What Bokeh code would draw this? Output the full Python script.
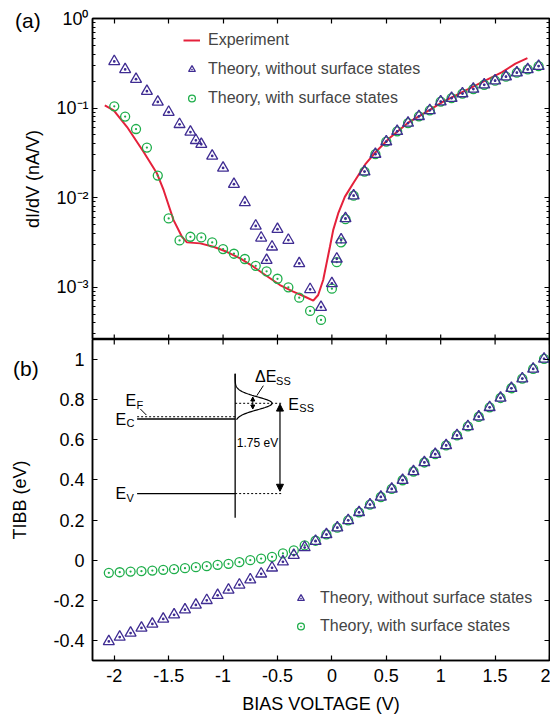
import numpy as np
from bokeh.plotting import figure
from bokeh.layouts import column
from bokeh.models import (LinearAxis, LogAxis, Range1d, CustomJSTickFormatter, FixedTicker,
                          Legend, LegendItem, Arrow, NormalHead, Div)
from bokeh.core.properties import value
from bokeh.embed import file_html
from bokeh.resources import INLINE

FONT = "Liberation Sans"
RED = "#e5213b"
GREEN = "#1fae4b"
PURPLE = "#3f2c92"

# ---------------- (a) dI/dV data ----------------
exp_v = [-2.087, -2.005, -1.882, -1.730, -1.607, -1.546, -1.455, -1.378, -1.332, -1.210,
         -1.088, -0.966, -0.843, -0.721, -0.599, -0.477, -0.355, -0.247, -0.171, -0.126,
         -0.080, -0.049, -0.018, 0.012, 0.058, 0.119, 0.195, 0.312, 0.403, 0.525,
         0.709, 0.892, 1.015, 1.198, 1.381, 1.565, 1.687, 1.797]
exp_didv = [0.1072, 0.0943, 0.0614, 0.0323, 0.01856, 0.01209, 0.0056, 0.00365, 0.00316, 0.00308,
            0.00282, 0.00248, 0.00209, 0.00169, 0.00133, 0.001055, 0.000889, 0.000781, 0.000705, 0.000816,
            0.0012, 0.00184, 0.00282, 0.00433, 0.00665, 0.01018, 0.01436, 0.024, 0.0323, 0.0456,
            0.0698, 0.0943, 0.1167, 0.1509, 0.195, 0.252, 0.3126, 0.3608]

nss_v = [-2.0, -1.9, -1.8, -1.7, -1.6, -1.5, -1.4, -1.3, -1.25, -1.2,
         -1.1, -1.0, -0.9, -0.8, -0.7, -0.65, -0.6, -0.55, -0.5, -0.4,
         -0.3, -0.2, -0.1, 0.0, 0.045, 0.085, 0.125,
         0.2, 0.3, 0.4, 0.5, 0.6, 0.7, 0.8, 0.9, 1.0, 1.1, 1.2, 1.3, 1.4, 1.5, 1.6, 1.7, 1.8, 1.9]
nss_didv = [0.332, 0.27, 0.21, 0.154, 0.117, 0.090, 0.0658, 0.054, 0.0436, 0.0394,
            0.0292, 0.0214, 0.0141, 0.0088, 0.00483, 0.00355, 0.0020, 0.00282, 0.00444, 0.00335,
            0.00184, 0.000944, 0.000596, 0.0011, 0.00207, 0.00338, 0.00585,
            0.0105, 0.0195, 0.0305, 0.0422, 0.055, 0.068, 0.0808, 0.0942, 0.118, 0.129, 0.145,
            0.163, 0.182, 0.202, 0.224, 0.248, 0.27, 0.294]

ss_v = [-2.0, -1.9, -1.8, -1.7, -1.6, -1.5, -1.4, -1.3, -1.2, -1.1,
        -1.0, -0.9, -0.8, -0.7, -0.6, -0.5, -0.4, -0.3, -0.2, -0.1,
        0.0, 0.045, 0.085, 0.125,
        0.2, 0.3, 0.4, 0.5, 0.6, 0.7, 0.8, 0.9, 1.0, 1.1, 1.2, 1.3, 1.4, 1.5, 1.6, 1.7, 1.8, 1.9]
ss_didv = [0.1045, 0.0802, 0.0583, 0.0362, 0.0176, 0.00585, 0.00332, 0.00365, 0.00359, 0.00316,
           0.00266, 0.00236, 0.00206, 0.00173, 0.0015, 0.00124, 0.000995, 0.000762, 0.000542, 0.00043,
           0.00096, 0.0019, 0.00316, 0.00574,
           0.0105, 0.0195, 0.0305, 0.0422, 0.055, 0.068, 0.0808, 0.0942, 0.118, 0.129, 0.145,
           0.163, 0.182, 0.202, 0.224, 0.248, 0.27, 0.294]

# ---------------- (b) TIBB data ----------------
tibb_v = [-2.05, -1.95, -1.85, -1.75, -1.65, -1.55, -1.45, -1.35, -1.25, -1.15,
          -1.05, -0.95, -0.85, -0.75, -0.65, -0.55, -0.45, -0.35, -0.25, -0.15,
          -0.05, 0.05, 0.15, 0.25, 0.35, 0.45, 0.55, 0.65, 0.75, 0.85,
          0.95, 1.05, 1.15, 1.25, 1.35, 1.45, 1.55, 1.65, 1.75, 1.85, 1.95]
tibb_nss = [-0.405, -0.383, -0.363, -0.338, -0.318, -0.293, -0.272, -0.247, -0.223, -0.200,
            -0.175, -0.148, -0.123, -0.097, -0.068, -0.038, -0.008, 0.025, 0.063, 0.095,
            0.128, 0.162, 0.1985, 0.2385, 0.277, 0.315, 0.355, 0.3985, 0.442, 0.487,
            0.5285, 0.572, 0.622, 0.667, 0.715, 0.762, 0.8085, 0.857, 0.905, 0.9535, 1.0035]
tibb_ss = [-0.063, -0.060, -0.057, -0.055, -0.052, -0.048, -0.045, -0.040, -0.035, -0.030,
           -0.023, -0.018, -0.010, 0.000, 0.008, 0.017, 0.0335, 0.0485, 0.0735, 0.097,
           0.1285, 0.162, 0.1985, 0.2385, 0.277, 0.315, 0.355, 0.3985, 0.442, 0.487,
           0.5285, 0.572, 0.622, 0.667, 0.715, 0.762, 0.8085, 0.857, 0.905, 0.9535, 1.0035]

x_ticks = [-2, -1.5, -1, -0.5, 0, 0.5, 1, 1.5, 2]
tibb_ticks = [-0.4, -0.2, 0, 0.2, 0.4, 0.6, 0.8, 1]
log_ticks = [1e-3, 1e-2, 1e-1, 1.0]
log_minor = [m * 10.0 ** e for e in range(-4, 0) for m in range(2, 10)]

num_fmt = CustomJSTickFormatter(code="return String(Number(tick.toFixed(2)));")
exp_fmt = CustomJSTickFormatter(code="""
const e = Math.round(Math.log10(tick));
const m = {"-": "\u207b", "0": "\u2070", "1": "\u00b9", "2": "\u00b2", "3": "\u00b3", "4": "\u2074"};
return "10" + String(e).split("").map(c => m[c]).join("");
""")
blank_fmt = CustomJSTickFormatter(code="return '';")

x_range = Range1d(-2.2, 2.0)


def style_axis(ax, labels=True, minor=False):
    ax.major_tick_in = 5
    ax.major_tick_out = 0
    ax.minor_tick_in = 3 if minor else 0
    ax.minor_tick_out = 0
    if not minor:
        ax.minor_tick_line_color = None
    ax.axis_line_width = 1.5
    ax.major_tick_line_width = 1.2
    ax.minor_tick_line_width = 1.0
    ax.major_label_text_font = FONT
    ax.axis_label_text_font = FONT
    ax.axis_label_text_font_style = "normal"
    ax.axis_label_text_font_size = "18px"
    ax.axis_label_text_color = "black"
    ax.major_label_text_color = "black"
    if labels:
        ax.major_label_text_font_size = "18px"
    else:
        ax.formatter = blank_fmt
        ax.major_label_text_font_size = "1px"
        ax.major_label_text_color = None
        ax.major_label_standoff = 0


def edge_ticks(p, y_edge):
    # inward ticks on the edge that the two panels share (half of each dash is clipped by the frame)
    p.scatter(x_ticks, [y_edge] * len(x_ticks), marker="dash", angle=np.pi / 2, size=10,
              line_color="black", line_width=1.2)


# ---------------- top panel ----------------
p1 = figure(frame_width=457, frame_height=321, x_range=x_range, y_range=Range1d(2.6e-4, 1.0),
            y_axis_type="log", x_axis_location=None, output_backend="svg", toolbar_location=None,
            min_border_left=92, min_border_right=1, min_border_top=18, min_border_bottom=0)
p1.grid.visible = False
p1.outline_line_color = "black"
p1.outline_line_width = 1.5

top_ax = LinearAxis(ticker=FixedTicker(ticks=x_ticks))
style_axis(top_ax, labels=False)
p1.add_layout(top_ax, "above")

p1.yaxis.ticker = FixedTicker(ticks=log_ticks, minor_ticks=log_minor)
p1.yaxis.formatter = exp_fmt
style_axis(p1.yaxis[0], labels=True, minor=True)
p1.yaxis.major_label_standoff = 4
p1.yaxis.axis_label = "dI/dV (nA/V)"
p1.yaxis.axis_label_standoff = 10
right_ax = LogAxis(ticker=FixedTicker(ticks=log_ticks, minor_ticks=log_minor))
style_axis(right_ax, labels=False, minor=True)
p1.add_layout(right_ax, "right")

edge_ticks(p1, p1.y_range.start)
r_exp = p1.line(exp_v, exp_didv, line_color=RED, line_width=2)
r_ss = p1.scatter(ss_v, ss_didv, marker="circle_dot", size=9, line_color=GREEN,
                  fill_color=None, line_width=1.3)
r_nss = p1.scatter(nss_v, nss_didv, marker="triangle_dot", size=11, line_color=PURPLE,
                   fill_color=None, line_width=1.3)

leg1 = Legend(items=[LegendItem(label="Experiment", renderers=[r_exp]),
                     LegendItem(label="Theory, without surface states", renderers=[r_nss]),
                     LegendItem(label="Theory, with surface states", renderers=[r_ss])],
              location=(91, 231), glyph_width=17, glyph_height=20, label_height=20,
              spacing=9, padding=0, margin=0, label_standoff=8,
              border_line_color=None, background_fill_alpha=0,
              label_text_font=FONT, label_text_font_size="16px")
p1.add_layout(leg1)

# ---------------- bottom panel ----------------
p2 = figure(frame_width=457, frame_height=321, x_range=x_range, y_range=Range1d(-0.5, 1.1),
            output_backend="svg", toolbar_location=None,
            min_border_left=92, min_border_right=1, min_border_top=0, min_border_bottom=0)
p2.grid.visible = False
p2.outline_line_color = "black"
p2.outline_line_width = 1.5

p2.xaxis.ticker = FixedTicker(ticks=x_ticks)
p2.xaxis.formatter = num_fmt
style_axis(p2.xaxis[0], labels=True)
p2.xaxis.major_label_standoff = 8
p2.xaxis.axis_label = "BIAS VOLTAGE (V)"
p2.xaxis.axis_label_standoff = 9

p2.yaxis.ticker = FixedTicker(ticks=tibb_ticks)
p2.yaxis.formatter = num_fmt
style_axis(p2.yaxis[0], labels=True)
p2.yaxis.major_label_standoff = 8
p2.yaxis.axis_label = "TIBB (eV)"
p2.yaxis.axis_label_standoff = 20
right_ax2 = LinearAxis(ticker=FixedTicker(ticks=tibb_ticks))
style_axis(right_ax2, labels=False)
p2.add_layout(right_ax2, "right")

edge_ticks(p2, p2.y_range.end)
b_ss = p2.scatter(tibb_v, tibb_ss, marker="circle_dot", size=9, line_color=GREEN,
                  fill_color=None, line_width=1.3)
b_nss = p2.scatter(tibb_v, tibb_nss, marker="triangle_dot", size=11, line_color=PURPLE,
                   fill_color=None, line_width=1.3)

leg2 = Legend(items=[LegendItem(label="Theory, without surface states", renderers=[b_nss]),
                     LegendItem(label="Theory, with surface states", renderers=[b_ss])],
              location=(200, 24), glyph_width=17, glyph_height=20, label_height=20,
              spacing=8, padding=0, margin=0, label_standoff=11,
              border_line_color=None, background_fill_alpha=0,
              label_text_font=FONT, label_text_font_size="16px")
p2.add_layout(leg2)

# ---- band diagram inset ----
surf_x = -0.889
ec, ef, ev, ess = 0.7035, 0.715, 0.332, 0.782
left_x, right_x = -1.79, -0.45
p2.line([surf_x, surf_x], [0.212, 0.9285], line_color="black", line_width=1.3)
p2.line([left_x, surf_x], [ec, ec], line_color="black", line_width=1.5)
p2.line([left_x, surf_x], [ev, ev], line_color="black", line_width=1.3)
p2.line([left_x, surf_x], [ef, ef], line_color="black", line_width=1, line_dash="2 2")
p2.line([surf_x, right_x], [ev, ev], line_color="black", line_width=1, line_dash="2 2")
p2.line([surf_x, right_x], [ess, ess], line_color="black", line_width=1, line_dash="2 2")
tt = np.linspace(0.70, 0.93, 80)
p2.line(surf_x + 0.34 * np.exp(-0.5 * ((tt - ess) / 0.032) ** 2), tt, line_color="black", line_width=1.2)
p2.add_layout(Arrow(start=NormalHead(size=7, fill_color="black", line_color="black"),
                    end=NormalHead(size=7, fill_color="black", line_color="black"),
                    x_start=-0.477, y_start=0.778, x_end=-0.477, y_end=0.3435,
                    line_color="black", line_width=1.2))
p2.add_layout(Arrow(start=NormalHead(size=4, fill_color="black", line_color="black"),
                    end=NormalHead(size=4, fill_color="black", line_color="black"),
                    x_start=-0.727, y_start=0.8135, x_end=-0.727, y_end=0.7535,
                    line_color="black", line_width=1))
p2.line([-0.63, -0.69], [0.87, 0.82], line_color="black", line_width=1)
p2.line([-1.76, -1.705], [0.7535, 0.7235], line_color="black", line_width=1)

lab_main = ["E", "E", "E", "E", "\u0394E"]
lab_sub = ["F", "C", "V", "SS", "SS"]
lab_x = [-1.897, -1.989, -1.989, -0.40, -0.706]
lab_y = [0.795, 0.7035, 0.332, 0.778, 0.9135]
lab_off = [11, 11, 11, 11, 21]
p2.text(lab_x, lab_y, text=lab_main, text_font=value(FONT), text_font_size="16px",
        text_baseline="middle", text_align="left", text_color="black")
p2.text(lab_x, lab_y, text=lab_sub, x_offset=lab_off, y_offset=4, text_font=value(FONT),
        text_font_size="11px", text_baseline="middle", text_align="left", text_color="black")
p2.text([-0.874], [0.582], text=["1.75 eV"], text_font=value(FONT), text_font_size="12px",
        text_baseline="middle", text_align="left", text_color="black")

# panel letters, laid over the left margin
def panel_letter(txt, left, top):
    return Div(text=txt, width=30, height=26,
               styles={"position": "absolute", "left": f"{left}px", "top": f"{top}px",
                       "font-family": FONT, "font-size": "21px", "color": "black",
                       "line-height": "24px", "z-index": "10"})


div_a = panel_letter("(a)", 10, 4)
div_b = panel_letter("(b)", 8, 352)

layout = column(p1, p2, div_a, div_b, spacing=0)
open("out.html", "w").write(file_html(layout, INLINE, "dI/dV and TIBB"))
